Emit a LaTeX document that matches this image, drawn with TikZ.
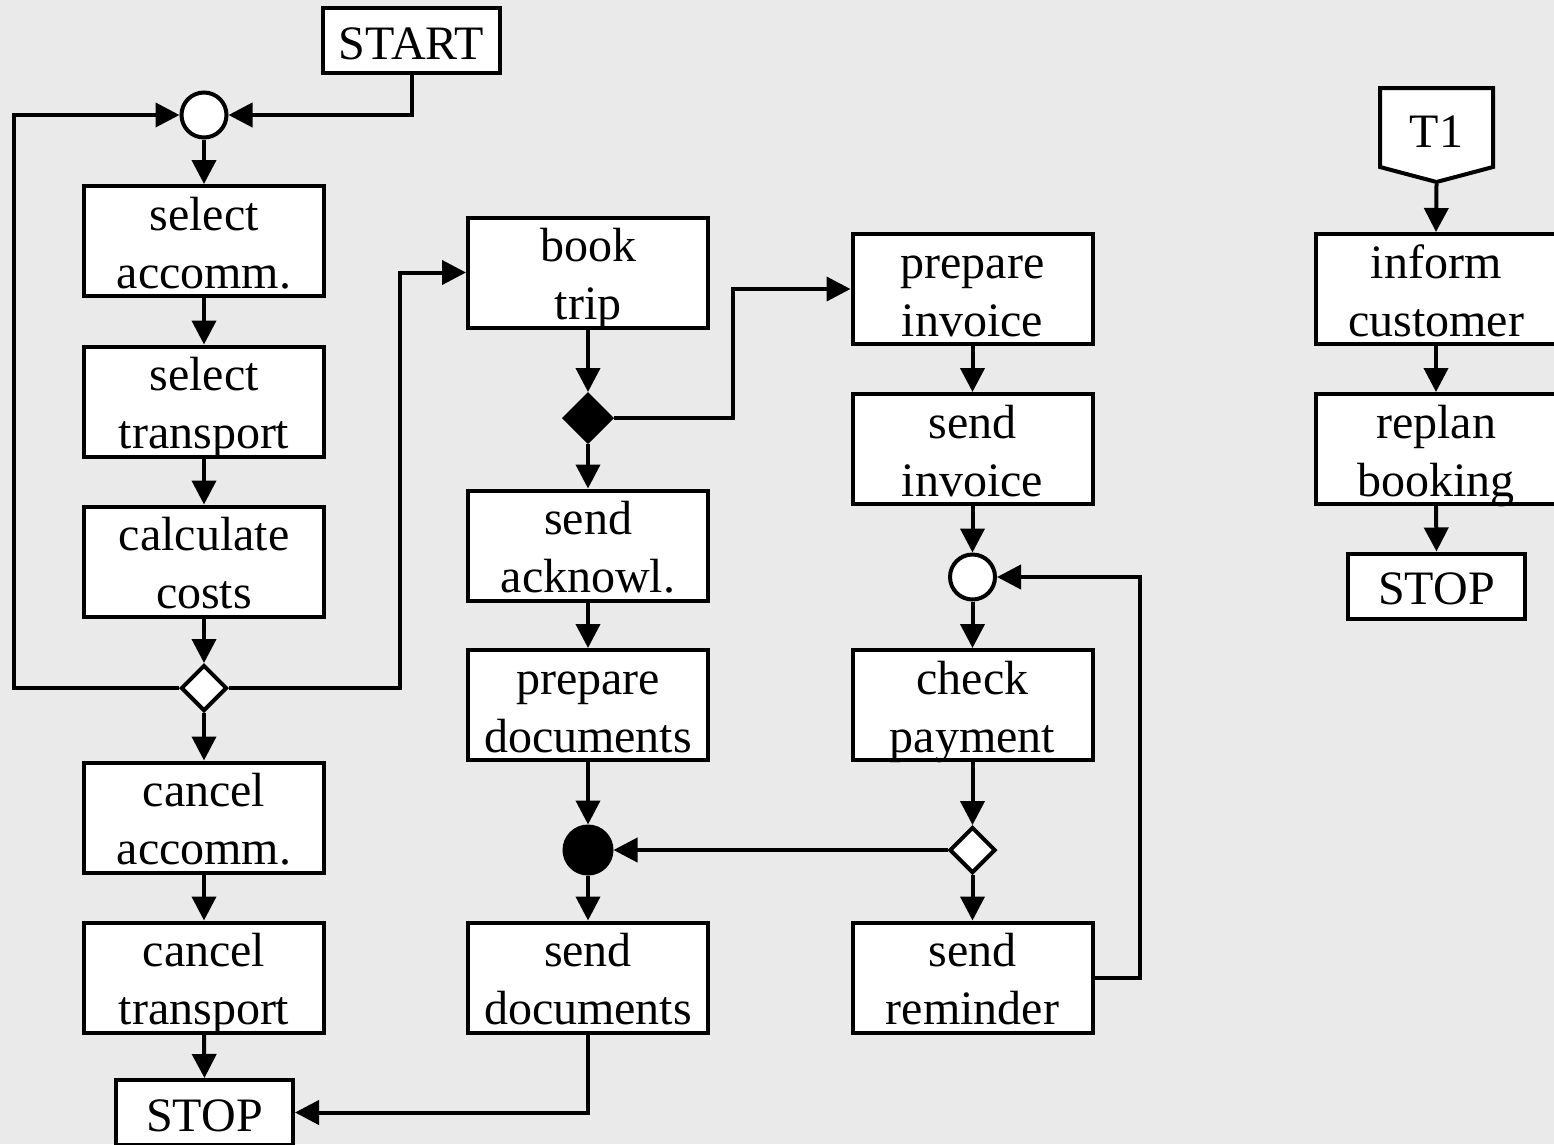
\documentclass[tikz,border=0pt]{standalone}
\usepackage{fontspec}
\setmainfont{Liberation Serif}
\usetikzlibrary{arrows.meta,shapes.geometric}
\definecolor{bg}{RGB}{234,234,234}
\begin{document}
\begin{tikzpicture}[x=1pt,y=-1pt,
  every node/.style={font=\fontsize{48}{58}\selectfont},
  line width=4pt,
  conn/.style={-{Triangle[length=24pt,width=24pt]}},
  task/.style={draw,fill=white,inner sep=0pt,minimum width=240pt,minimum height=110pt,
    align=center,text height=102pt,text depth=8pt},
  term/.style={draw,fill=white,inner sep=0pt,minimum width=177pt,minimum height=65pt,
    text height=51pt,text depth=14pt},
  junc/.style={circle,draw,fill=white,inner sep=0pt,minimum size=45pt},
  sync/.style={circle,draw,fill=black,inner sep=0pt,minimum size=47pt},
  split/.style={diamond,aspect=1,draw,fill=white,inner sep=0pt,minimum size=46pt},
  fork/.style={diamond,aspect=1,draw,fill=black,inner sep=0pt,minimum size=48pt},
]
\fill[bg] (0,0) rectangle (1554,1144);
\useasboundingbox (0,0) rectangle (1554,1144);

% booking column
\node[term] (start) at (411.5,40.5) {START};
\node[junc] (j1) at (204,115) {};
\node[task] (selacc) at (204,241) {select\\accomm.};
\node[task] (seltra) at (204,401.5) {select\\transport};
\node[task] (calc) at (204,561.5) {calculate\\costs};
\node[split] (s1) at (204,688) {};
\node[task] (canacc) at (204,817.5) {cancel\\accomm.};
\node[task] (cantra) at (204,977.5) {cancel\\transport};
\node[term] (stop1) at (204.5,1112.5) {STOP};

% trip column
\node[task] (book) at (588,272.5) {book\\trip};
\node[fork] (f1) at (588,418) {};
\node[task] (ack) at (588,545.5) {send\\acknowl.};
\node[task] (prepdoc) at (588,705) {prepare\\documents};
\node[sync] (m1) at (588,850) {};
\node[task] (senddoc) at (588,977.5) {send\\documents};

% invoice column
\node[task] (prepinv) at (972.5,289) {prepare\\invoice};
\node[task] (sendinv) at (972.5,449) {send\\invoice};
\node[junc] (j2) at (972.5,577) {};
\node[task] (check) at (972.5,705) {check\\payment};
\node[split] (s2) at (972.5,850) {};
\node[task] (remind) at (972.5,977.5) {send\\reminder};

% exception handler
\draw[fill=white] (1380,88) -- (1493,88) -- (1493,167) -- (1436.5,182) -- (1380,167) -- cycle;
\node[anchor=base] (t1) at (1436.5,147) {T1};
\coordinate (t1tip) at (1436.5,184);
\node[task] (inform) at (1436,289) {inform\\customer};
\node[task] (replan) at (1436,449) {replan\\booking};
\node[term] (stop2) at (1436.5,586) {STOP};

% bend points
\coordinate (lp) at (14,115);
\coordinate (rp1) at (400,272.5);
\coordinate (rp2) at (733,289);
\coordinate (rp3) at (1140,577);

% connectors
\draw[conn] (start.south) |- (j1.east);
\draw[conn] (j1.south) -- (selacc.north);
\draw[conn] (selacc.south) -- (seltra.north);
\draw[conn] (seltra.south) -- (calc.north);
\draw[conn] (calc.south) -- (s1.north);
\draw[conn] (s1.south) -- (canacc.north);
\draw[conn] (canacc.south) -- (cantra.north);
\draw[conn] (cantra.south) -- (stop1.north);
\draw[conn] (s1.west) -| (lp) -- (j1.west);
\draw[conn] (s1.east) -| (rp1) -- (book.west);

\draw[conn] (book.south) -- (f1.north);
\draw[conn] (f1.south) -- (ack.north);
\draw[conn] (ack.south) -- (prepdoc.north);
\draw[conn] (prepdoc.south) -- (m1.north);
\draw[conn] (m1.south) -- (senddoc.north);
\draw[conn] (senddoc.south) |- (stop1.east);
\draw[conn] (f1.east) -| (rp2) -- (prepinv.west);

\draw[conn] (prepinv.south) -- (sendinv.north);
\draw[conn] (sendinv.south) -- (j2.north);
\draw[conn] (j2.south) -- (check.north);
\draw[conn] (check.south) -- (s2.north);
\draw[conn] (s2.south) -- (remind.north);
\draw[conn] (s2.west) -- (m1.east);
\draw[conn] (remind.east) -| (rp3) -- (j2.east);

\draw[conn] (t1tip) -- (inform.north);
\draw[conn] (inform.south) -- (replan.north);
\draw[conn] (replan.south) -- (stop2.north);
\end{tikzpicture}
\end{document}
